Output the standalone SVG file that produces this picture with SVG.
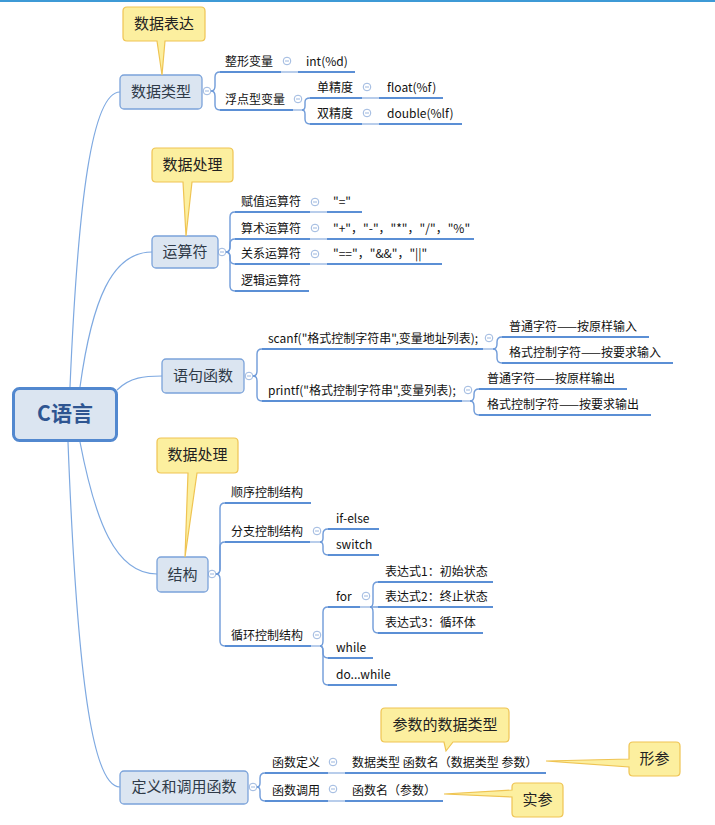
<svg xmlns="http://www.w3.org/2000/svg" width="715" height="825" viewBox="0 0 715 825">
<style>
text{font-family:"Noto Sans CJK SC","Noto Sans",sans-serif}
.nb{fill:#dbe5f1;stroke:#7ba3da;stroke-width:1.3}
.mt{font-size:15px;fill:#2f3a48;text-anchor:middle}
.st{font-size:12px;fill:#111}
.ul{stroke:#5b8fd5;stroke-width:2;fill:none}
.lt{stroke:#b8cdeb;stroke-width:2;fill:none}
.br{stroke:#6f9bd9;stroke-width:1.4;fill:none}
.rc{stroke:#7ea9e1;stroke-width:1.2;fill:none}
.cb{fill:#fcef9f;stroke:#efc453;stroke-width:1.2}
.ct{font-size:15px;fill:#222;text-anchor:middle}
.cc circle{fill:#fff;stroke:#9cb7df;stroke-width:1}
.cc path{stroke:#9cb7df;stroke-width:1}
</style>
<rect x="0" y="0" width="715" height="2" fill="#3d9ad6"/>

<g id="connectors">
  <path class="rc" d="M70,387 C78,200 92,92 120,92"/>
  <path class="rc" d="M80,387 C92,300 112,252 152,252"/>
  <path class="rc" d="M117,390 C130,377 145,376 162,376"/>
  <path class="rc" d="M80,442 C95,520 115,574 157,574"/>
  <path class="rc" d="M68,442 C78,700 95,787 120,787"/>

  <!-- 数据类型 -->
  <path class="br" d="M211,91 Q215,91 215,86 V77 Q215,72 220,72"/>
  <path class="br" d="M211,91 Q215,91 215,96 V105 Q215,110 220,110"/>
  <path class="ul" d="M220,72 H281 M298,72 H355"/>
  <path class="lt" d="M281,72 H298"/>
  <path class="ul" d="M220,110 H293"/>
  <path class="lt" d="M293,110 H302"/>
  <path class="br" d="M302,110 Q305,110 305,106 V102 Q305,98 310,98"/>
  <path class="br" d="M302,110 Q305,110 305,114 V119 Q305,124 310,124"/>
  <path class="ul" d="M310,98 H362 M379,98 H443 M310,124 H362 M379,124 H462"/>
  <path class="lt" d="M362,98 H379 M362,124 H379"/>

  <!-- 运算符 -->
  <path class="br" d="M226,252 Q230,252 230,247 V217 Q230,212 235,212"/>
  <path class="br" d="M226,252 Q230,252 230,247 V244 Q230,239 235,239"/>
  <path class="br" d="M226,252 Q230,252 230,257 V259 Q230,264 235,264"/>
  <path class="br" d="M226,252 Q230,252 230,257 V286 Q230,291 235,291"/>
  <path class="ul" d="M235,212 H310 M327,212 H362 M235,239 H310 M327,239 H474 M235,264 H310 M327,264 H442 M235,291 H309"/>
  <path class="lt" d="M310,212 H327 M310,239 H327 M310,264 H327"/>

  <!-- 语句函数 -->
  <path class="br" d="M253,376 Q257,376 257,371 V354 Q257,349 262,349"/>
  <path class="br" d="M253,376 Q257,376 257,381 V396 Q257,401 262,401"/>
  <path class="ul" d="M262,349 H483 M262,401 H462"/>
  <path class="lt" d="M483,349 H493 M462,401 H470"/>
  <path class="br" d="M493,349 Q497,349 497,344 V342 Q497,337 502,337"/>
  <path class="br" d="M493,349 Q497,349 497,354 V358 Q497,363 502,363"/>
  <path class="ul" d="M502,337 H649 M502,363 H673"/>
  <path class="br" d="M470,401 Q474,401 474,396 V394 Q474,389 479,389"/>
  <path class="br" d="M470,401 Q474,401 474,406 V410 Q474,415 479,415"/>
  <path class="ul" d="M479,389 H627 M479,415 H651"/>

  <!-- 结构 -->
  <path class="br" d="M216,574 Q220,574 220,569 V508 Q220,503 225,503"/>
  <path class="br" d="M216,574 Q220,574 220,569 V547 Q220,542 225,542"/>
  <path class="br" d="M216,574 Q220,574 220,579 V641 Q220,646 225,646"/>
  <path class="ul" d="M225,503 H311 M225,542 H310 M225,646 H311"/>
  <path class="lt" d="M310,542 H320 M311,646 H320"/>
  <path class="br" d="M320,542 Q323,542 323,538 V534 Q323,529 328,529"/>
  <path class="br" d="M320,542 Q323,542 323,546 V550 Q323,555 328,555"/>
  <path class="ul" d="M328,529 H379 M328,555 H379"/>
  <path class="br" d="M320,646 Q323,646 323,641 V612 Q323,607 328,607"/>
  <path class="br" d="M320,646 Q323,646 323,651 V653 Q323,658 328,658"/>
  <path class="br" d="M320,646 Q323,646 323,651 V680 Q323,685 328,685"/>
  <path class="ul" d="M328,607 H360 M328,658 H373 M328,685 H397"/>
  <path class="lt" d="M360,607 H370"/>
  <path class="br" d="M370,607 Q373,607 373,602 V587 Q373,582 378,582"/>
  <path class="br" d="M370,607 H378"/>
  <path class="br" d="M370,607 Q373,607 373,612 V628 Q373,633 378,633"/>
  <path class="ul" d="M378,582 H493 M378,607 H493 M378,633 H483"/>

  <!-- 定义和调用函数 -->
  <path class="br" d="M257,787 Q260,787 260,783 V778 Q260,773 265,773"/>
  <path class="br" d="M257,787 Q260,787 260,791 V796 Q260,801 265,801"/>
  <path class="ul" d="M265,773 H328 M345,773 H546 M265,801 H328 M345,801 H443"/>
  <path class="lt" d="M328,773 H345 M328,801 H345"/>
</g>

<g class="cc" id="collapse">
  <circle cx="207" cy="91" r="3.8"/><path d="M205,91 H209"/>
  <circle cx="287" cy="61" r="3.8"/><path d="M285,61 H289"/>
  <circle cx="298" cy="99" r="3.8"/><path d="M296,99 H300"/>
  <circle cx="367" cy="87" r="3.8"/><path d="M365,87 H369"/>
  <circle cx="367" cy="113" r="3.8"/><path d="M365,113 H369"/>
  <circle cx="222" cy="252" r="3.8"/><path d="M220,252 H224"/>
  <circle cx="315" cy="202" r="3.8"/><path d="M313,202 H317"/>
  <circle cx="315" cy="228" r="3.8"/><path d="M313,228 H317"/>
  <circle cx="315" cy="254" r="3.8"/><path d="M313,254 H317"/>
  <circle cx="249" cy="376" r="3.8"/><path d="M247,376 H251"/>
  <circle cx="489" cy="338" r="3.8"/><path d="M487,338 H491"/>
  <circle cx="468" cy="390" r="3.8"/><path d="M466,390 H470"/>
  <circle cx="212" cy="574" r="3.8"/><path d="M210,574 H214"/>
  <circle cx="317" cy="531" r="3.8"/><path d="M315,531 H319"/>
  <circle cx="317" cy="635" r="3.8"/><path d="M315,635 H319"/>
  <circle cx="366" cy="596" r="3.8"/><path d="M364,596 H368"/>
  <circle cx="253" cy="787" r="3.8"/><path d="M251,787 H255"/>
  <circle cx="333" cy="762" r="3.8"/><path d="M331,762 H335"/>
  <circle cx="333" cy="789" r="3.8"/><path d="M331,789 H335"/>
</g>

<g id="root">
  <rect x="13.5" y="388.5" width="103" height="52" rx="6" fill="#dbe5f1" stroke="#5288cf" stroke-width="3"/>
  <text x="65" y="421" style="font-size:21px;font-weight:bold;fill:#2e5591;text-anchor:middle">C语言</text>
</g>

<g id="n-datatype">
  <rect class="nb" x="120" y="75" width="82" height="34" rx="4"/>
  <text class="mt" x="161" y="97">数据类型</text>
</g>
<g id="n-int"><text class="st" x="225" y="66">整形变量</text></g>
<g id="n-intd"><text class="st" x="306" y="66">int(%d)</text></g>
<g id="n-float"><text class="st" x="225" y="104">浮点型变量</text></g>
<g id="n-single"><text class="st" x="317" y="92">单精度</text></g>
<g id="n-floatf"><text class="st" x="387" y="92">float(%f)</text></g>
<g id="n-double"><text class="st" x="317" y="118">双精度</text></g>
<g id="n-doublelf"><text class="st" x="387" y="118">double(%lf)</text></g>

<g id="n-ops">
  <rect class="nb" x="152" y="236" width="66" height="32" rx="4"/>
  <text class="mt" x="185" y="257">运算符</text>
</g>
<g id="n-assign"><text class="st" x="241" y="206">赋值运算符</text></g>
<g id="n-assign-v"><text class="st" x="333" y="206">"="</text></g>
<g id="n-arith"><text class="st" x="241" y="233">算术运算符</text></g>
<g id="n-arith-v"><text class="st" x="333" y="233">"+"，"-"，"*"，"/"，"%"</text></g>
<g id="n-rel"><text class="st" x="241" y="258">关系运算符</text></g>
<g id="n-rel-v"><text class="st" x="333" y="258">"=="，"&amp;&amp;"，"||"</text></g>
<g id="n-logic"><text class="st" x="241" y="285">逻辑运算符</text></g>

<g id="n-stmt">
  <rect class="nb" x="162" y="359" width="82" height="34" rx="4"/>
  <text class="mt" x="203" y="381">语句函数</text>
</g>
<g id="n-scanf"><text class="st" x="268" y="343">scanf("格式控制字符串",变量地址列表);</text></g>
<g id="n-scanf1"><text class="st" x="509" y="331">普通字符——按原样输入</text></g>
<g id="n-scanf2"><text class="st" x="509" y="357">格式控制字符——按要求输入</text></g>
<g id="n-printf"><text class="st" x="268" y="395">printf("格式控制字符串",变量列表);</text></g>
<g id="n-printf1"><text class="st" x="487" y="383">普通字符——按原样输出</text></g>
<g id="n-printf2"><text class="st" x="487" y="409">格式控制字符——按要求输出</text></g>

<g id="n-struct">
  <rect class="nb" x="157" y="557" width="51" height="35" rx="4"/>
  <text class="mt" x="182.5" y="580">结构</text>
</g>
<g id="n-seq"><text class="st" x="231" y="497">顺序控制结构</text></g>
<g id="n-branch"><text class="st" x="231" y="536">分支控制结构</text></g>
<g id="n-ifelse"><text class="st" x="336" y="523">if-else</text></g>
<g id="n-switch"><text class="st" x="336" y="549">switch</text></g>
<g id="n-loop"><text class="st" x="231" y="640">循环控制结构</text></g>
<g id="n-for"><text class="st" x="336" y="601">for</text></g>
<g id="n-e1"><text class="st" x="385" y="576">表达式1：初始状态</text></g>
<g id="n-e2"><text class="st" x="385" y="601">表达式2：终止状态</text></g>
<g id="n-e3"><text class="st" x="385" y="627">表达式3：循环体</text></g>
<g id="n-while"><text class="st" x="336" y="652">while</text></g>
<g id="n-dowhile"><text class="st" x="336" y="679">do...while</text></g>

<g id="n-func">
  <rect class="nb" x="120" y="771" width="128" height="33" rx="4"/>
  <text class="mt" x="184" y="792">定义和调用函数</text>
</g>
<g id="n-fdef"><text class="st" x="272" y="767">函数定义</text></g>
<g id="n-fdef-v"><text class="st" x="352" y="767">数据类型 函数名（数据类型 参数）</text></g>
<g id="n-fcall"><text class="st" x="272" y="795">函数调用</text></g>
<g id="n-fcall-v"><text class="st" x="352" y="795">函数名（参数）</text></g>

<g id="c-expr">
  <path class="cb" d="M127,7 H201 Q205,7 205,11 V37 Q205,41 201,41 H165 L162,75 L157,41 H127 Q123,41 123,37 V11 Q123,7 127,7 Z"/>
  <text class="ct" x="164" y="29">数据表达</text>
</g>
<g id="c-proc1">
  <path class="cb" d="M156,148 H229 Q233,148 233,152 V178 Q233,182 229,182 H192 L186,236 L183,182 H156 Q152,182 152,178 V152 Q152,148 156,148 Z"/>
  <text class="ct" x="192.5" y="170">数据处理</text>
</g>
<g id="c-proc2">
  <path class="cb" d="M161,438 H234 Q238,438 238,442 V469 Q238,473 234,473 H197 L185,557 L188,473 H161 Q157,473 157,469 V442 Q157,438 161,438 Z"/>
  <text class="ct" x="197.5" y="460">数据处理</text>
</g>
<g id="c-paramtype">
  <path class="cb" d="M385,708 H505 Q509,708 509,712 V738 Q509,742 505,742 H453 L446,751 L444,742 H385 Q381,742 381,738 V712 Q381,708 385,708 Z"/>
  <text class="ct" x="445" y="730">参数的数据类型</text>
</g>
<g id="c-formal">
  <path class="cb" d="M633,742 H676 Q680,742 680,746 V772 Q680,776 676,776 H633 Q629,776 629,772 V767 L546,761 L629,759 V746 Q629,742 633,742 Z"/>
  <text class="ct" x="654.5" y="764">形参</text>
</g>
<g id="c-actual">
  <path class="cb" d="M516,783 H559 Q563,783 563,787 V813 Q563,817 559,817 H516 Q512,817 512,813 V797 L444,794 L512,790 V787 Q512,783 516,783 Z"/>
  <text class="ct" x="537.5" y="805">实参</text>
</g>
</svg>
